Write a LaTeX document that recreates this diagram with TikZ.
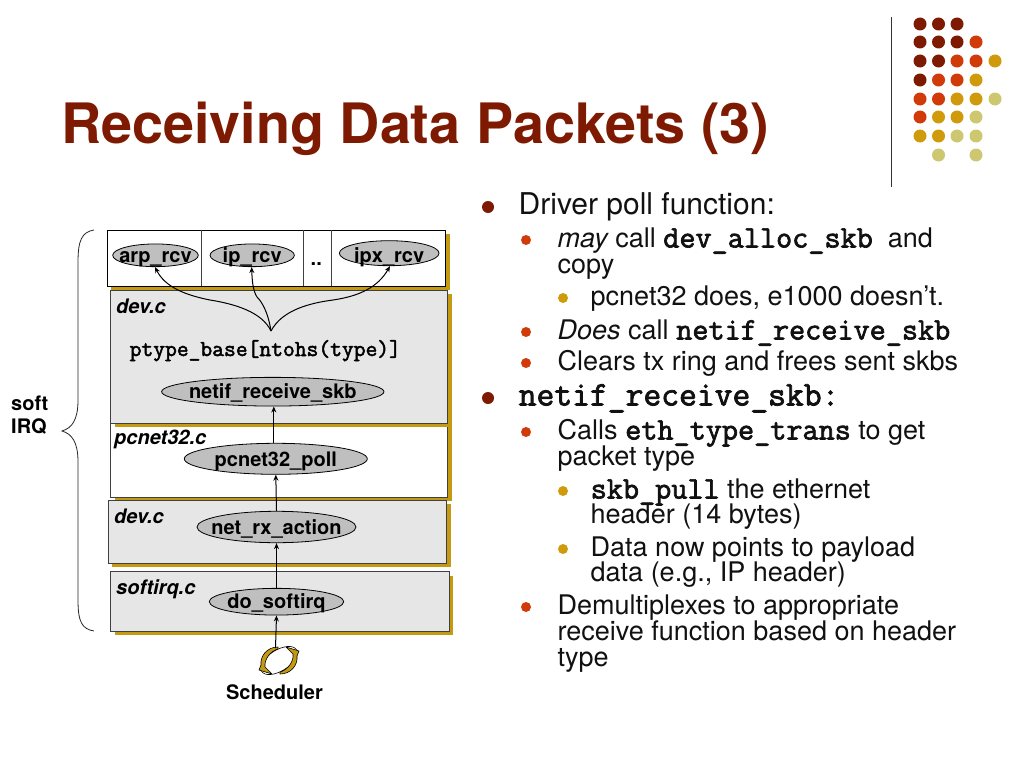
\documentclass[tikz,border=0pt]{standalone}
\usepackage{fontspec}
\setmainfont{TeX Gyre Heros}
\newfontfamily\cour[FakeBold=2.2]{Latin Modern Mono}
\usetikzlibrary{shapes.geometric,arrows.meta,shadows}
\definecolor{dk}{HTML}{7F1A02}
\definecolor{rd}{HTML}{D13B0A}
\definecolor{gd}{HTML}{CF9A0B}
\definecolor{lt}{HTML}{CDC86F}
\definecolor{shad}{HTML}{C49A12}
\definecolor{pan}{HTML}{E6E6E6}
\definecolor{ell}{HTML}{BFBFBF}
\definecolor{bod}{HTML}{111111}
\newcommand{\fsz}[1]{\fontsize{#1}{#1}\selectfont}
\newcommand{\mon}[1]{{\cour\fsz{31.3}#1}}
\newcommand{\fn}[2][7.2pt]{\makebox[0pt][c]{\raisebox{-#1}[0pt][0pt]{#2}}}
\tikzset{
  panel/.style={rectangle,draw=black!75,line width=.9pt,inner sep=0,
    copy shadow={shadow xshift=4pt,shadow yshift=-4pt,fill=shad,draw=none}},
  func/.style={ellipse,draw=black,line width=.8pt,fill=ell,inner sep=0,font=\bfseries\fsz{20}},
  file/.style={anchor=base west,inner sep=0,font=\bfseries\itshape\fsz{20}},
  lab/.style={anchor=base west,inner sep=0,font=\bfseries\fsz{20}},
  l1/.style={anchor=base west,inner sep=0,text=bod,font=\fsz{30}},
  l2/.style={anchor=base west,inner sep=0,text=bod,font=\fsz{27}},
  arr/.style={-{Stealth[length=6pt,width=5pt]},line width=1pt,black},
  dot/.style={circle,inner sep=0,minimum size=13pt},
  bul/.style={circle,inner sep=0},
  arc piece/.style={fill=shad,draw=black,line width=.6pt,line join=round}
}
\begin{document}
\begin{tikzpicture}[x=1pt,y=-1pt]
\useasboundingbox (0,0) rectangle (1024,768);
\fill[white] (0,0) rectangle (1024,768);
% title
\node[anchor=base west,inner sep=0,text=dk,font=\bfseries\fsz{55.7}] (title) at (61,143) {Receiving Data Packets (3)};
% decoration
\draw[line width=1pt,black!80] (891.7,17) -- (891.7,187);
\foreach \c/\x/\y in {dk/920/24,dk/938.5/24,dk/957/24,
 dk/920/42,dk/938.5/42,dk/957/42,rd/976/42,
 dk/920/61,dk/938.5/61,rd/957/61,rd/976/61,gd/995/61,
 dk/920/80,rd/938.5/80,rd/957/80,gd/976/80,
 rd/920/99,rd/938.5/99,gd/957/99,gd/976/99,lt/995/99,
 rd/920/117,gd/938.5/117,gd/957/117,lt/976/117,
 gd/920/136,gd/938.5/136,lt/957/136,lt/976/136,
 lt/938.5/155,lt/976/155}
  \node[dot,fill=\c] at (\x,\y) {};
% panels
\node[panel,fill=pan,minimum width=338.3pt,minimum height=59.6pt] (softp) at (279.85,601.5) {};
\node[panel,fill=white,minimum width=337pt,minimum height=74pt] (pcnetp) at (279.2,460.3) {};
\node[panel,fill=pan,minimum width=338.4pt,minimum height=63.3pt] (devb) at (277.5,531.65) {};
\node[panel,fill=pan,minimum width=337pt,minimum height=133.3pt] (devt) at (279.2,356.7) {};
\node[panel,draw=black,fill=white,minimum width=338.4pt,minimum height=56pt] (topp) at (276.5,258) {};
\draw[line width=.9pt,black!75] (201.7,230) -- (201.7,286) (303,230) -- (303,286) (331,230) -- (331,286);
% functions
\node[func,minimum width=85.6pt,minimum height=22.7pt] (arp) at (155.5,255.3) {\fn{arp\_rcv}};
\node[func,minimum width=84.3pt,minimum height=22.7pt] (ip) at (252.2,255.3) {\fn{ip\_rcv}};
\node[lab] (dots) at (310.5,265) {..};
\node[func,minimum width=99.7pt,minimum height=25pt] (ipx) at (389.2,253.2) {\fn[9.2pt]{ipx\_rcv}};
\node[func,minimum width=222.3pt,minimum height=28.7pt] (netif) at (272.8,391.7) {\fn{netif\_receive\_skb}};
\node[func,minimum width=183pt,minimum height=31pt] (poll) at (275.8,458.8) {\fn{pcnet32\_poll}};
\node[func,minimum width=159pt,minimum height=31.4pt] (rx) at (276.5,527) {\fn{net\_rx\_action}};
\node[func,minimum width=134.4pt,minimum height=26.7pt] (soft) at (276.5,601.7) {\fn{do\_softirq}};
% file labels
\node[file] (f1) at (116,313.5) {dev.c};
\node[file] (f2) at (114,444) {pcnet32.c};
\node[file] (f3) at (114,523.5) {dev.c};
\node[file] (f4) at (116,594.5) {softirq.c};
\node[anchor=base west,inner sep=0] (pt) at (129.5,356) {{\cour\fsz{22.9}ptype\_base[ntohs(type)]}};
% scheduler
\node[ellipse,rotate=32,draw=black,line width=.6pt,minimum width=41pt,minimum height=21pt,inner sep=0] (sched) at (279,660.5) {};
\path[arc piece] (278,647) .. controls (267,647) and (260,656) .. (261,665) -- (259,670) -- (272,674) -- (265,667) .. controls (264,660) and (270,651) .. (278,649) -- cycle;
\path[arc piece] (280,674) .. controls (291,674) and (298,665) .. (297,656) -- (299,651) -- (286,647) -- (293,654) .. controls (294,661) and (288,670) .. (280,672) -- cycle;
\coordinate (schedtop) at (275.5,648);
\node[anchor=base,inner sep=0,font=\bfseries\fsz{20}] (schedt) at (274.5,699) {Scheduler};
\coordinate (fork) at (271,331);
% arrows
\draw[arr] (schedtop) -- (soft.south);
\draw[arr] (soft.north) -- (rx.south);
\draw[arr] (rx.north) -- (poll.south);
\draw[arr] ([xshift=-2pt]poll.north) -- ([xshift=1pt]netif.south);
\draw[arr] (fork) .. controls (262,312) and (235,304) .. (210,300) .. controls (185,295) and (165,287) .. ([xshift=-.5pt]arp.south);
\draw[arr] (fork) .. controls (268,312) and (262,302) .. (257,297) .. controls (253,291) and (252,280) .. ([xshift=-.5pt]ip.south);
\draw[arr] (fork) .. controls (282,310) and (310,303) .. (333,300) .. controls (360,296) and (378,287) .. ([xshift=.8pt]ipx.south);
% brace
\draw[line width=.8pt,black!85] (94,230) .. controls (82,232) and (78,240) .. (78,262) -- (78,400) .. controls (78,420) and (72,428) .. (62,431) .. controls (72,434) and (78,442) .. (78,462) -- (78,600) .. controls (78,622) and (82,629) .. (94,631);
\node[lab] (s1) at (11,410) {soft};
\node[lab] (s2) at (11,433) {IRQ};
% text
\node[bul,fill=dk,minimum size=12pt] (b1) at (488,207) {};
\node[l1] (t1) at (518.5,214.5) {Driver poll function:};
\node[bul,fill=rd,minimum size=10pt] (b2) at (526,240) {};
\node[l2] (t2) at (557.5,247.5) {\itshape may \upshape call \mon{dev\_alloc\_skb}\ \ and};
\node[l2] (t3) at (557.5,273.5) {copy};
\node[bul,fill=gd,minimum size=10pt] (b3) at (563,298) {};
\node[l2] (t4) at (590.5,305.5) {pcnet32 does, e1000 doesn’t.};
\node[bul,fill=rd,minimum size=10pt] (b4) at (526,332) {};
\node[l2] (t5) at (557.5,339.5) {\itshape Does \upshape call \mon{netif\_receive\_skb}};
\node[bul,fill=rd,minimum size=10pt] (b5) at (526,363) {};
\node[l2] (t6) at (557.5,370.5) {Clears tx ring and frees sent skbs};
\node[bul,fill=dk,minimum size=12pt] (b6) at (488,398) {};
\node[l1] (t7) at (518.5,405.5) {{\cour\fsz{34.6}netif\_receive\_skb:}};
\node[bul,fill=rd,minimum size=10pt] (b7) at (526,432) {};
\node[l2] (t8) at (557.5,439.5) {Calls \mon{eth\_type\_trans} to get};
\node[l2] (t9) at (557.5,465.5) {packet type};
\node[bul,fill=gd,minimum size=10pt] (b8) at (563,491) {};
\node[l2] (t10) at (590.5,498.5) {\mon{skb\_pull} the ethernet};
\node[l2] (t11) at (590.5,523.5) {header (14 bytes)};
\node[bul,fill=gd,minimum size=10pt] (b9) at (563,549) {};
\node[l2] (t12) at (590.5,556.5) {Data now points to payload};
\node[l2] (t13) at (590.5,581.5) {data (e.g., IP header)};
\node[bul,fill=rd,minimum size=10pt] (b10) at (526,607) {};
\node[l2] (t14) at (557.5,614.5) {Demultiplexes to appropriate};
\node[l2] (t15) at (557.5,640.5) {receive function based on header};
\node[l2] (t16) at (557.5,666.5) {type};
\end{tikzpicture}
\end{document}
